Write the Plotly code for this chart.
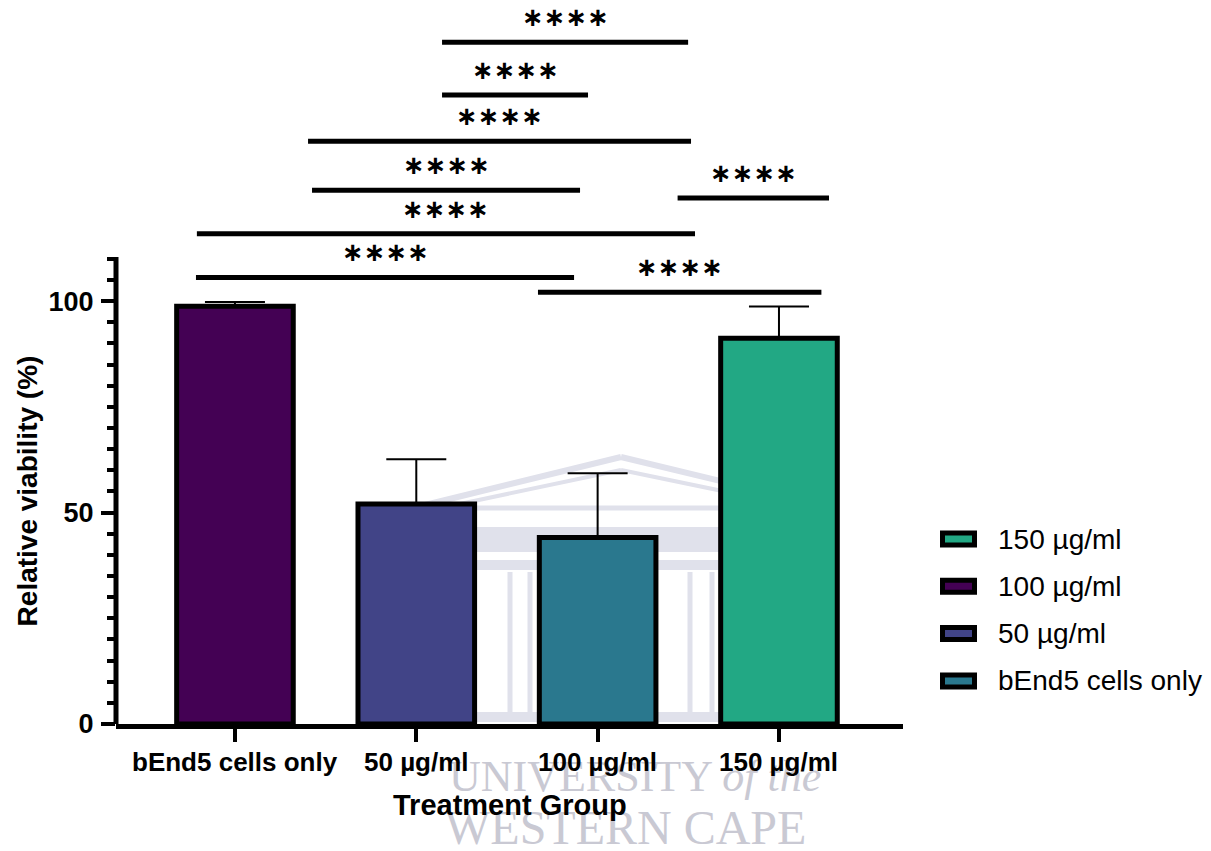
import plotly.graph_objects as go

# ---------------- data ----------------
categories = ["bEnd5 cells only", "50 µg/ml", "100 µg/ml", "150 µg/ml"]
viability = [98.8, 52.0, 44.1, 91.2]
viability_sd = [1.0, 10.6, 15.2, 7.5]
bar_colors = ["#440154", "#414487", "#2a788e", "#22a884"]

legend_labels = ["150 µg/ml", "100 µg/ml", "50 µg/ml", "bEnd5 cells only"]
legend_colors = ["#22a884", "#440154", "#414487", "#2a788e"]

# significance brackets (axis units)
sig_x0 = [1.142, 1.142, 0.403, 0.425, -0.210, -0.215, 2.441, 1.671]
sig_x1 = [2.499, 1.947, 2.515, 1.903, 2.537, 1.870, 3.276, 3.234]
sig_y = [161.2, 148.7, 137.8, 126.2, 115.9, 105.6, 124.4, 102.1]
sig_label = ["****"] * 8

y_major = [0, 50, 100]
y_minor = [5, 10, 15, 20, 25, 30, 35, 40, 45, 55, 60, 65, 70, 75, 80, 85, 90, 95, 105, 110]
y_axis_top = 110.4

x_title = "Treatment Group"
y_title = "Relative viability (%)"
watermark = ["UNIVERSITY <i>of the</i>", "WESTERN CAPE"]

# ---------------- layout constants ----------------
OFF = 8                      # default page margin around the plot div
FW, FH = 1203, 843
ML, MR, MT, MB = 108, 308, 0, 127
PW, PH = FW - ML - MR, FH - MT - MB
FONT = "Liberation Sans, Arial, sans-serif"


def px_x(px):
    return (px - OFF - ML) / PW


def px_y(py):
    return (FH - MB - (py - OFF)) / PH


fig = go.Figure()

fig.add_trace(go.Bar(
    x=categories, y=viability,
    width=0.643,
    marker=dict(color=bar_colors, line=dict(color="black", width=5)),
    error_y=dict(type="data", symmetric=False, array=viability_sd,
                 arrayminus=[0] * len(viability_sd),
                 color="black", thickness=2, width=30),
    showlegend=False,
))

shapes = []
annotations = []

# faint watermark building (background decoration)
WM = "#e0e1eb"


def seg(x0, y0, x1, y1, w):
    shapes.append(dict(type="line", xref="paper", yref="paper", layer="below",
                       x0=px_x(x0), y0=px_y(y0), x1=px_x(x1), y1=px_y(y1),
                       line=dict(color=WM, width=w)))


def box(x0, y0, x1, y1):
    shapes.append(dict(type="rect", xref="paper", yref="paper", layer="below",
                       x0=px_x(x0), y0=px_y(y0), x1=px_x(x1), y1=px_y(y1),
                       fillcolor=WM, line=dict(width=0)))


seg(425, 505, 621, 457, 6)
seg(621, 457, 820, 505, 6)
seg(455, 505, 621, 470, 4)
seg(621, 470, 790, 505, 4)
seg(440, 508, 810, 508, 5)
box(460, 527, 790, 552)
box(460, 560, 790, 570)
for cx in [510, 530, 560, 690, 712, 735]:
    seg(cx, 572, cx, 712, 5)
box(460, 712, 790, 722)

for i, t in enumerate(watermark):
    annotations.append(dict(x=px_x([635, 625][i]), y=px_y([776, 827][i]), xref="paper", yref="paper",
                            xanchor="center", yanchor="middle", text=t, showarrow=False,
                            font=dict(family="Liberation Serif, Times New Roman, serif",
                                      size=[44, 48][i], color="#c9c9d3")))

# y axis line (only spans 0..110)
shapes.append(dict(type="line", xref="paper", yref="y", x0=0, x1=0, y0=0, y1=y_axis_top,
                   line=dict(color="black", width=5)))

for x0, x1, y, lab in zip(sig_x0, sig_x1, sig_y, sig_label):
    shapes.append(dict(type="line", xref="x", yref="y", x0=x0, x1=x1, y0=y, y1=y,
                       line=dict(color="black", width=5)))
    annotations.append(dict(x=(x0 + x1) / 2, y=y, xref="x", yref="y",
                            text="∗" * len(lab), showarrow=False,
                            yanchor="middle", yshift=25,
                            font=dict(family="DejaVu Sans", size=26, color="black", weight="bold")))

# x tick labels (annotations so they layer above the watermark)
for c in categories:
    annotations.append(dict(x=c, y=0, xref="x", yref="paper", xanchor="center", yanchor="middle",
                            yshift=-38, text=c, showarrow=False,
                            font=dict(family=FONT, size=26, color="black", weight="bold")))

# legend (manual, wide outlined swatches)
for i, (lab, col) in enumerate(zip(legend_labels, legend_colors)):
    cy = 539 + i * 47.3
    shapes.append(dict(type="rect", xref="paper", yref="paper",
                       x0=px_x(942.5), x1=px_x(974.5), y0=px_y(cy - 6), y1=px_y(cy + 6),
                       fillcolor=col, line=dict(color="black", width=5)))
    annotations.append(dict(x=px_x(996), y=px_y(cy), xref="paper", yref="paper",
                            xanchor="left", yanchor="middle", text=lab, showarrow=False,
                            font=dict(family=FONT, size=28, color="black")))

# axis titles
annotations.append(dict(x=0, y=55, xref="paper", yref="y", xanchor="center", yanchor="middle",
                        xshift=-89, text=y_title, textangle=-90, showarrow=False,
                        font=dict(family=FONT, size=28, color="black", weight="bold")))
annotations.append(dict(x=0.5, y=0, xref="paper", yref="paper", xanchor="center", yanchor="middle",
                        yshift=-81, text=x_title, showarrow=False,
                        font=dict(family=FONT, size=29, color="black", weight="bold")))

fig.update_layout(
    width=FW, height=FH,
    margin=dict(l=ML, r=MR, t=MT, b=MB),
    paper_bgcolor="white", plot_bgcolor="white",
    showlegend=False,
    shapes=shapes, annotations=annotations,
    xaxis=dict(type="category", range=[-0.656, 3.684], showline=True, linecolor="black", linewidth=5,
               ticks="outside", ticklen=13, tickwidth=4, tickcolor="black",
               showticklabels=False, showgrid=False, zeroline=False),
    yaxis=dict(range=[0, 169.3], showline=False, showgrid=False, zeroline=False,
               tickmode="array", tickvals=y_major, ticktext=[str(v) for v in y_major],
               ticks="outside", ticklen=14, tickwidth=4, tickcolor="black",
               ticklabelstandoff=2,
               tickfont=dict(family=FONT, size=27, color="black", weight="bold"),
               minor=dict(tickmode="array", tickvals=y_minor, ticks="outside", ticklen=8,
                          tickwidth=4, tickcolor="black", showgrid=False)),
)

fig.write_html("out.html")
